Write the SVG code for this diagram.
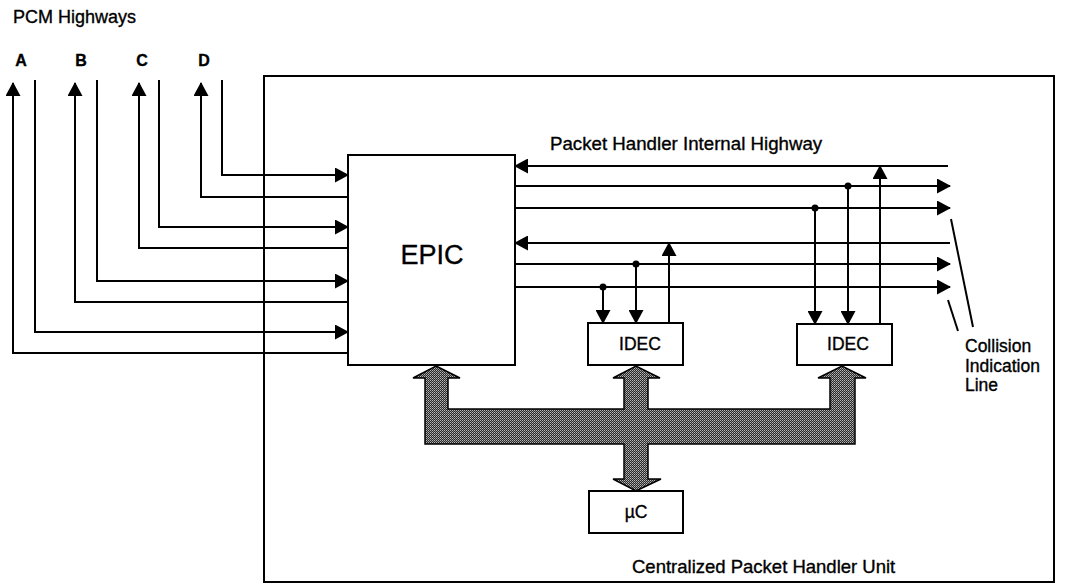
<svg xmlns="http://www.w3.org/2000/svg" width="1065" height="584" viewBox="0 0 1065 584">
<style>
.ln{fill:none;stroke:#000;stroke-width:2}
.box{fill:#fff;stroke:#000;stroke-width:2}
.t{font-family:"Liberation Sans",Arial,sans-serif;fill:#000;stroke:#000;stroke-width:0.35}
.dot{fill:#000}
</style>
<defs>
<marker id="ah" markerUnits="userSpaceOnUse" markerWidth="14" markerHeight="15" refX="13" refY="7.5" orient="auto" viewBox="0 0 14 15">
<path d="M0,0 L14,7.5 L0,15 z" fill="#000"/>
</marker>
<pattern id="stip" width="2" height="2" patternUnits="userSpaceOnUse">
<rect width="2" height="2" fill="#2a2a2a"/>
<rect width="1" height="1" fill="#b8b8b8"/>
<rect x="1" y="1" width="1" height="1" fill="#8a8a8a"/>
</pattern>
</defs>
<rect width="1065" height="584" fill="#fff"/>

<g id="outer-unit">
<rect x="264" y="76" width="790" height="506" class="ln"/>
<text class="t" x="632" y="573" font-size="18.5">Centralized Packet Handler Unit</text>
</g>

<g id="labels">
<text class="t" x="13" y="23" font-size="18">PCM Highways</text>
<text class="t" x="21" y="66" font-size="16" font-weight="bold" text-anchor="middle">A</text>
<text class="t" x="81" y="66" font-size="16" font-weight="bold" text-anchor="middle">B</text>
<text class="t" x="142" y="66" font-size="16" font-weight="bold" text-anchor="middle">C</text>
<text class="t" x="204" y="66" font-size="16" font-weight="bold" text-anchor="middle">D</text>
<text class="t" x="550" y="150" font-size="18.7">Packet Handler Internal Highway</text>
<text class="t" x="965" y="352" font-size="17.5">Collision</text>
<text class="t" x="965" y="372" font-size="17.5">Indication</text>
<text class="t" x="965" y="391" font-size="17.5">Line</text>
</g>

<g id="connectors">
<!-- PCM highways -->
<path class="ln" d="M222,80 V175 H348" marker-end="url(#ah)"/>
<path class="ln" d="M348,197 H201 V83" marker-end="url(#ah)"/>
<path class="ln" d="M159,80 V227 H348" marker-end="url(#ah)"/>
<path class="ln" d="M348,248 H139 V83" marker-end="url(#ah)"/>
<path class="ln" d="M97,80 V281 H348" marker-end="url(#ah)"/>
<path class="ln" d="M348,302 H75 V83" marker-end="url(#ah)"/>
<path class="ln" d="M35,80 V332 H348" marker-end="url(#ah)"/>
<path class="ln" d="M348,353 H13 V83" marker-end="url(#ah)"/>
<!-- internal highway -->
<path class="ln" d="M948,166 H515" marker-end="url(#ah)"/>
<path class="ln" d="M515,186 H950" marker-end="url(#ah)"/>
<path class="ln" d="M515,208 H950" marker-end="url(#ah)"/>
<path class="ln" d="M950,243 H515" marker-end="url(#ah)"/>
<path class="ln" d="M515,264 H950" marker-end="url(#ah)"/>
<path class="ln" d="M515,287 H950" marker-end="url(#ah)"/>
<!-- taps -->
<circle class="dot" cx="603" cy="287" r="3.5"/>
<circle class="dot" cx="636" cy="264" r="3.5"/>
<circle class="dot" cx="815" cy="208" r="3.5"/>
<circle class="dot" cx="848" cy="186" r="3.5"/>
<path class="ln" d="M603,287 V323" marker-end="url(#ah)"/>
<path class="ln" d="M636,264 V323" marker-end="url(#ah)"/>
<path class="ln" d="M669,323 V243" marker-end="url(#ah)"/>
<path class="ln" d="M815,208 V324" marker-end="url(#ah)"/>
<path class="ln" d="M848,186 V324" marker-end="url(#ah)"/>
<path class="ln" d="M880,324 V166" marker-end="url(#ah)"/>
<!-- collision indication -->
<path class="ln" d="M951,219 L973,327"/>
<path class="ln" d="M948,300 L958,331"/>
<!-- bus -->
<path d="M436,366 L460,378 L448,378 L448,409 L624,409 L624,378 L613,378 L636,366 L660,378 L648,378 L648,409 L830,409 L830,378 L818,378 L842,366 L866,378 L855,378 L855,444 L648,444 L648,479 L661,479 L636,491 L613,479 L624,479 L624,444 L425,444 L425,378 L413,378 Z" fill="url(#stip)" stroke="#000" stroke-width="1.5" stroke-linejoin="miter"/>
</g>

<g id="epic">
<rect x="348" y="155" width="167" height="210" class="box"/>
<text class="t" x="432" y="264" font-size="27" text-anchor="middle">EPIC</text>
</g>
<g id="idec1">
<rect x="588" y="323" width="95" height="42" class="box"/>
<text class="t" x="640" y="350" font-size="17.5" text-anchor="middle">IDEC</text>
</g>
<g id="idec2">
<rect x="797" y="324" width="95" height="41" class="box"/>
<text class="t" x="848" y="350" font-size="17.5" text-anchor="middle">IDEC</text>
</g>
<g id="uc">
<rect x="589" y="491" width="94" height="42" class="box"/>
<text class="t" x="636" y="518" font-size="17.5" text-anchor="middle">µC</text>
</g>
</svg>
